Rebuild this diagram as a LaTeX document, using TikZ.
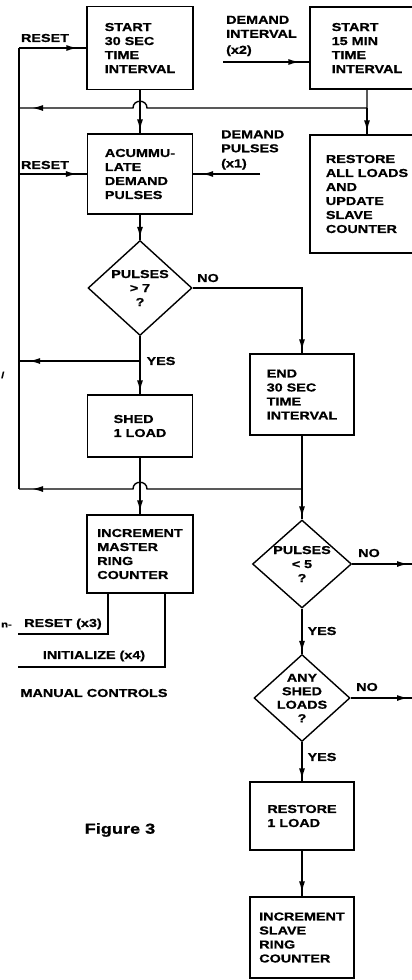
\documentclass[tikz,border=0pt]{standalone}
\usepackage{fontspec}
\setmainfont{Liberation Sans}[FakeStretch=1.25,FakeBold=0.8]
\usetikzlibrary{shapes.geometric,arrows.meta,decorations.markings}
\begin{document}
\begin{tikzpicture}[x=1pt,y=-1pt,
  every node/.style={font=\bfseries\fontsize{11.5}{14}\selectfont, inner sep=0pt},
  box/.style={draw, line width=1.4pt, align=left},
  dia/.style={draw, diamond, line width=1.4pt, inner sep=0pt},
  dtext/.style={align=center},
  ln/.style={line width=1.4pt},
  arr/.style={postaction={decorate}, decoration={markings, mark=at position #1 with {\arrow{Latex[length=11pt,width=6pt]}}}}
]
\clip (0,0) rectangle (412,980);
\fill[white] (0,0) rectangle (412,980);

% boxes
\node[box, minimum width=106pt, minimum height=83pt] (b1) at (140,48) {START\\30 SEC\\TIME\\INTERVAL};
\node[box, minimum width=105pt, minimum height=80pt] (b2) at (140,174) {ACUMMU-\\LATE\\DEMAND\\PULSES};
\node[box, minimum width=114pt, minimum height=82pt] (b3) at (367,48) {START\\15 MIN\\TIME\\INTERVAL};
\node[box, minimum width=114pt, minimum height=118pt] (b4) at (367,194) {RESTORE\\ALL LOADS\\AND\\UPDATE\\SLAVE\\COUNTER};
\node[box, minimum width=104pt, minimum height=81pt] (b5) at (302,394.5) {END\\30 SEC\\TIME\\INTERVAL};
\node[box, minimum width=105pt, minimum height=62pt] (b6) at (140,426) {SHED\\1 LOAD};
\node[box, minimum width=106pt, minimum height=78pt] (b7) at (140,554) {INCREMENT\\MASTER\\RING\\COUNTER};
\node[box, minimum width=104pt, minimum height=68pt] (b8) at (302,816) {RESTORE\\1 LOAD};
\node[box, minimum width=104pt, minimum height=81pt] (b9) at (302,937.5) {INCREMENT\\SLAVE\\RING\\COUNTER};

% decisions
\node[dia, minimum width=104pt, minimum height=95pt] (d1) at (140,288) {};
\node[dtext] (d1t) at (d1) {PULSES\\>\,\,7\\?};
\node[dia, minimum width=99pt, minimum height=88pt] (d2) at (302,564) {};
\node[dtext] (d2t) at (d2) {PULSES\\<\,\,5\\?};
\node[dia, minimum width=96pt, minimum height=87pt] (d3) at (302,698) {};
\node[dtext, font=\bfseries\fontsize{11.5}{13.5}\selectfont] (d3t) at (d3) {ANY\\SHED\\LOADS\\?};

% coordinates
\coordinate (busTop) at (19,48);
\coordinate (busR2) at (19,174);
\coordinate (busA) at (19,108);
\coordinate (busY) at (19,361);
\coordinate (busBot) at (19,489);
\coordinate (jA) at (367,108);
\coordinate (hA1) at (147,108);
\coordinate (hA2) at (133,108);
\coordinate (jY) at (140,361);
\coordinate (jB) at (302,489);
\coordinate (hB1) at (147,489);
\coordinate (hB2) at (133,489);
\coordinate (diS) at (223,62);
\coordinate (dpS) at (260,174);
\coordinate (m1) at (108,634);
\coordinate (m1e) at (18,634);
\coordinate (m2) at (165,667);
\coordinate (m2e) at (18,667);
\coordinate (noR1) at (412,564);
\coordinate (noR2) at (412,698);

% bus and resets
\draw[ln] (busTop) -- (busBot);
\draw[ln, arr=-9pt] (busTop) -- (b1.west);
\draw[ln, arr=-10pt] (busR2) -- (b2.west);

% line from 15 min box
\draw[ln, arr=-13pt] (b3.south) -- (jA) -- (hA1) .. controls (147,99) and (133,99) .. (hA2) -- (busA);
\draw[ln, arr=-3pt] (jA) -- (b4.north);
\draw[ln, arr=-3pt] (b1.south) -- (b2.north);

% inputs
\draw[ln, arr=-10pt] (diS) -- (diS -| b3.west);
\draw[ln, arr=-9pt] (dpS) -- (b2.east);

% left column
\draw[ln, arr=-2pt] (b2.south) -- (d1.north);
\draw[ln, arr=-3pt] (d1.east) -- (d1.east -| b5.north) -- (b5.north);
\draw[ln, arr=-3pt] (d1.south) -- (b6.north);
\draw[ln, arr=-10pt] (jY) -- (busY);
\draw[ln, arr=-3pt] (b6.south) -- (b7.north);

% right column
\draw[ln, arr=-2pt] (b5.south) -- (d2.north);
\draw[ln, arr=-13pt] (jB) -- (hB1) .. controls (147,480) and (133,480) .. (hB2) -- (busBot);
\draw[ln, arr=-4pt] (d2.east) -- (noR1);
\draw[ln, arr=-2pt] (d2.south) -- (d3.north);
\draw[ln, arr=-4pt] (d3.east) -- (noR2);
\draw[ln, arr=-2pt] (d3.south) -- (b8.north);
\draw[ln, arr=-4pt] (b8.south) -- (b9.north);

% manual controls
\draw[ln] (m1 |- b7.south) -- (m1) -- (m1e);
\draw[ln] (m2 |- b7.south) -- (m2) -- (m2e);

% labels
\node (lr1) at (45,38) {RESET};
\node (lr2) at (45,165) {RESET};
\node[anchor=west, align=left] (ldi) at (226,36) {DEMAND\\INTERVAL\\[2pt](x2)};
\node[anchor=west, align=left] (ldp) at (221,150) {DEMAND\\PULSES\\[1pt](x1)};
\node (lno1) at (208,278) {NO};
\node (lyes1) at (161,361) {YES};
\node (lno2) at (369,553) {NO};
\node (lyes2) at (322,631) {YES};
\node (lno3) at (367,687) {NO};
\node (lyes3) at (322,757) {YES};
\node (lrx3) at (63,624) {RESET (x3)};
\node (linit) at (94,656) {INITIALIZE (x4)};
\node (lman) at (94,693) {MANUAL CONTROLS};
\node[font=\bfseries\fontsize{14.5}{16}\selectfont] (lfig) at (120,830) {Figure 3};
\node[anchor=west, font=\bfseries\fontsize{9}{10}\selectfont] (frag1) at (1,375) {/};
\node[anchor=west, font=\bfseries\fontsize{9}{10}\selectfont] (frag2) at (1,625) {n-};
\end{tikzpicture}
\end{document}
